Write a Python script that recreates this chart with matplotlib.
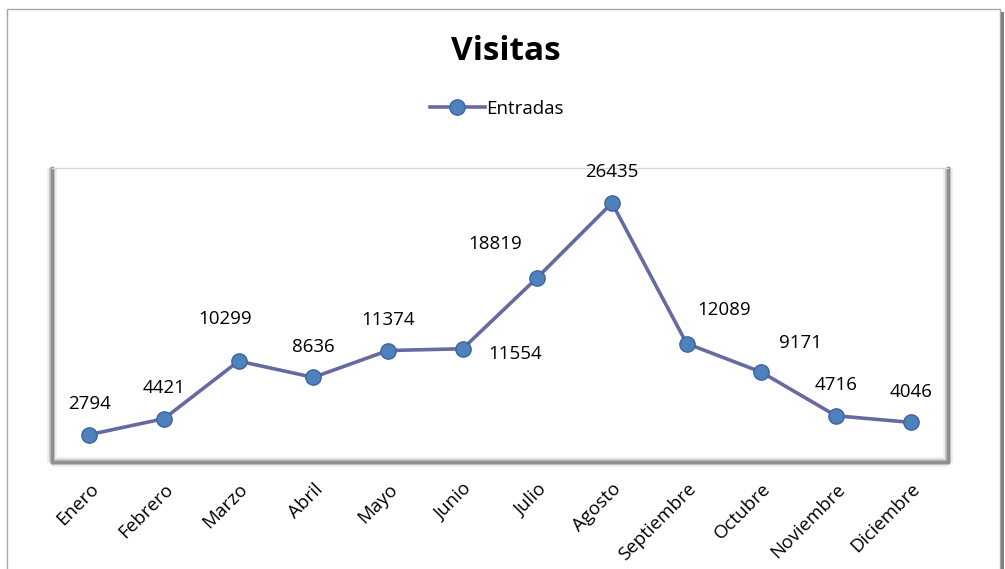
import matplotlib
matplotlib.use('Agg')
import matplotlib.pyplot as plt
from matplotlib.patches import Rectangle
from matplotlib.lines import Line2D

meses = ['Enero', 'Febrero', 'Marzo', 'Abril', 'Mayo', 'Junio', 'Julio',
         'Agosto', 'Septiembre', 'Octubre', 'Noviembre', 'Diciembre']
entradas = [2794, 4421, 10299, 8636, 11374, 11554, 18819,
            26435, 12089, 9171, 4716, 4046]

# label offsets in points (dx, dy)
offsets = [(0, 22), (0, 22), (-10, 30), (0, 22), (0, 22), (38, -4),
           (-30, 24), (0, 22), (27, 24), (28, 21), (0, 22), (0, 22)]

plt.rcParams['font.family'] = ['Open Sans', 'DejaVu Sans']

fig = plt.figure(figsize=(10.05, 5.69), dpi=100)

# chart border with shadow on the right
fig.patches.append(Rectangle((1001 / 1005, 0), 3 / 1005, 1 - 12 / 569,
                             transform=fig.transFigure, facecolor='#7f7f7f',
                             edgecolor='none', zorder=-2))
fig.patches.append(Rectangle((7 / 1005, -0.01), 993 / 1005, 1 - 9 / 569 + 0.01,
                             transform=fig.transFigure, facecolor='white',
                             edgecolor='#a6a6a6', linewidth=1, zorder=-1))

ax = fig.add_axes([52 / 1005, 1 - 462 / 569, 896 / 1005, 294 / 569])
x = list(range(len(meses)))
line, = ax.plot(x, entradas, color='#676aa0', linewidth=2.6, marker='o',
                markersize=11, markerfacecolor='#4f81bd',
                markeredgecolor='#3b63a0', markeredgewidth=1, zorder=3)

for xi, v, (dx, dy) in zip(x, entradas, offsets):
    ax.annotate(str(v), (xi, v), xytext=(dx, dy), textcoords='offset points',
                ha='center', va='center', fontsize=13.5, color='black')

ax.set_xlim(-0.5, len(meses) - 0.5)
ax.set_ylim(0, 30000)
ax.set_yticks([])
ax.set_xticks(x)
ax.set_xticklabels(meses, rotation=45, ha='right', rotation_mode='anchor',
                   fontsize=13.5)
ax.tick_params(axis='x', length=0, pad=13)

# bevel look for the plot area
ax.spines['top'].set_color('#d9d9d9')
ax.spines['top'].set_linewidth(1)
for s in ['left', 'right', 'bottom']:
    ax.spines[s].set_color('#909090')
    ax.spines[s].set_linewidth(2.5)
for w, c in [(7, '#ececec'), (4, '#c4c4c4')]:
    ax.plot([0, 0], [0, 1], transform=ax.transAxes, color=c, lw=w,
            solid_capstyle='butt', clip_on=False, zorder=1)
    ax.plot([1, 1], [0, 1], transform=ax.transAxes, color=c, lw=w,
            solid_capstyle='butt', clip_on=False, zorder=1)
    ax.plot([0, 1], [0, 0], transform=ax.transAxes, color=c, lw=w,
            solid_capstyle='butt', clip_on=False, zorder=1)

fig.text(506 / 1005, 1 - 52 / 569, 'Visitas', ha='center', va='center',
         fontsize=24, fontweight='bold')

handle = Line2D([], [], color='#676aa0', linewidth=2.6, marker='o',
                markersize=11, markerfacecolor='#4f81bd',
                markeredgecolor='#3b63a0')
fig.legend([handle], ['Entradas'], loc='center', frameon=False,
           bbox_to_anchor=(497 / 1005, 1 - 109 / 569), fontsize=13.5,
           handlelength=2.9, handletextpad=0.1)

fig.savefig('out.png', dpi=100)
